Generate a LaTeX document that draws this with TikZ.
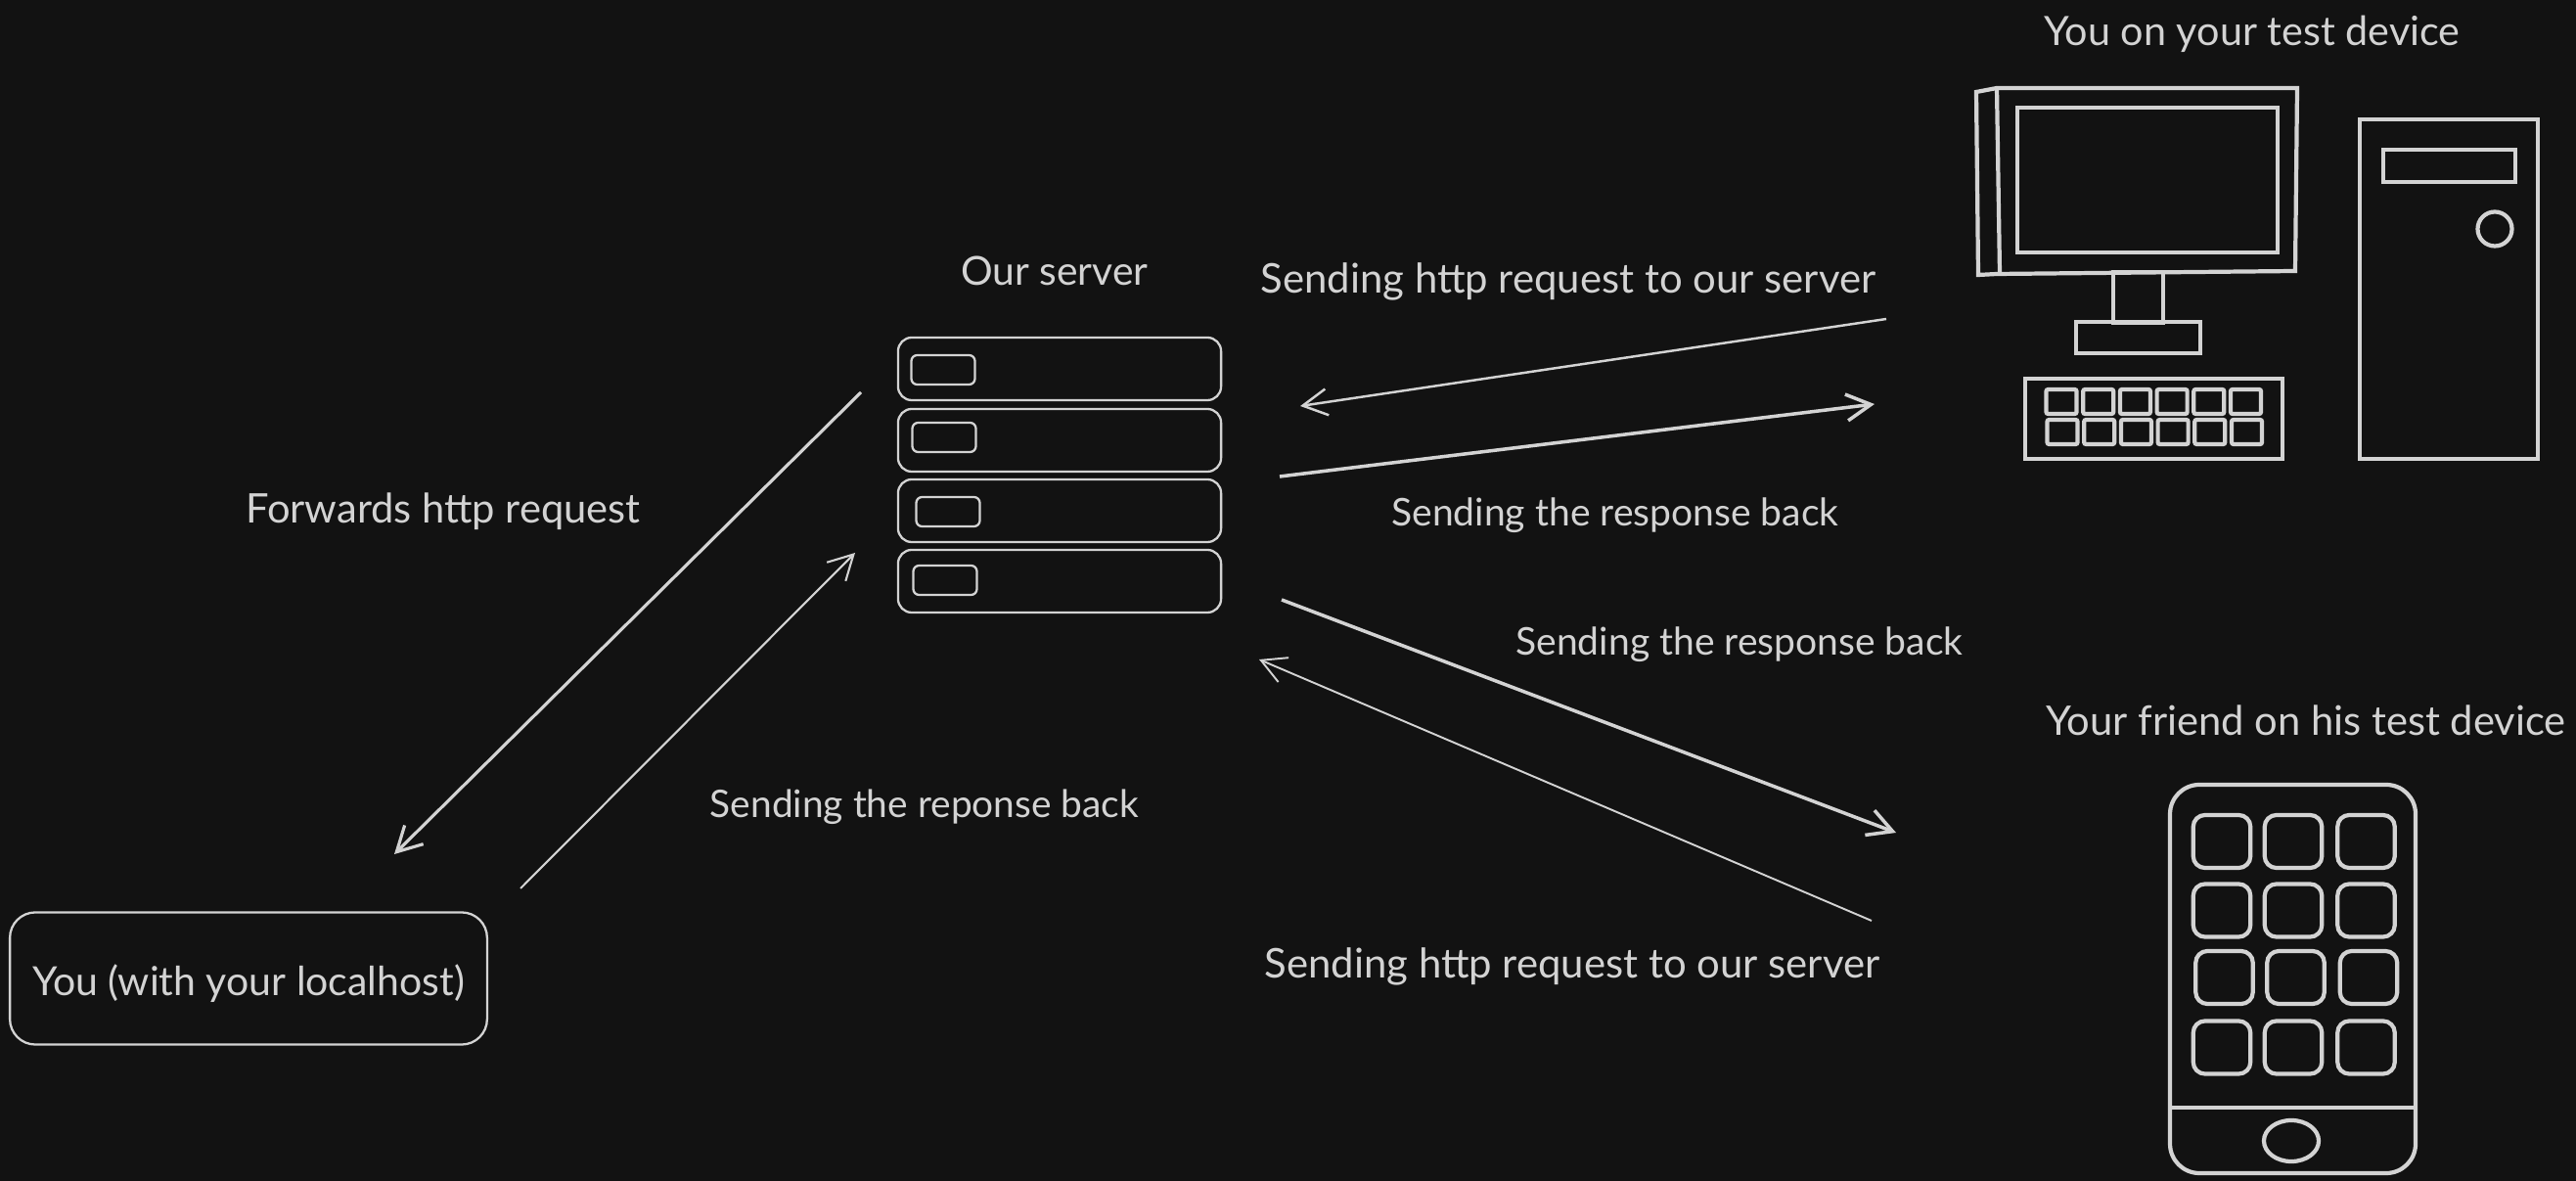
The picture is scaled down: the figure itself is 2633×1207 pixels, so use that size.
\documentclass[tikz,border=0pt]{standalone}
\usepackage{fontspec}
\setmainfont{Lato}
\usetikzlibrary{arrows.meta}
\definecolor{bgdark}{HTML}{121212}
\definecolor{inkgrey}{HTML}{D3D3D3}
\tikzset{
    label text/.style={text=inkgrey,font=\fontsize{#1}{13}\selectfont,inner sep=0pt},
    thin ink/.style={draw=inkgrey,line width=0.65pt},
    thick ink/.style={draw=inkgrey,line width=1.2pt},
    link/.style={draw=inkgrey,line width=#1,-{Straight Barb[length=2.5mm,width=2.7mm]}},
    rack/.style={thin ink,rounded corners=1.4mm,minimum width=3.3cm,minimum height=0.64cm,inner sep=0pt},
    slot/.style={thin ink,rounded corners=0.6mm,minimum width=0.65cm,minimum height=0.3cm,inner sep=0pt},
    you box/.style={thin ink,rounded corners=2.6mm,minimum width=4.875cm,minimum height=1.35cm,inner sep=0pt,text=inkgrey,font=\fontsize{11.65}{13}\selectfont},
    app/.style={thick ink,rounded corners=1.2mm,minimum width=0.585cm,minimum height=0.54cm,inner sep=0pt},
    key/.style={thick ink,rounded corners=0.2mm,minimum width=0.31cm,minimum height=0.25cm,inner sep=0pt},
}
\begin{document}
\begin{tikzpicture}[x=0.01cm,y=-0.01cm]
    \fill[bgdark] (0,0) rectangle (2633,1207);
    \useasboundingbox (0,0) rectangle (2633,1207);

    \node[label text=11.75] (youLabel) at (2302,35) {You on your test device};
    \node[label text=11.85] (friendLabel) at (2357,736) {Your friend on his test device};
    \node[label text=11.6] (serverLabel) at (1078,277) {Our server};
    \node[label text=11.9] (reqTop) at (1603,288) {Sending http request to our server};
    \node[label text=11.1] (respTop) at (1651,527) {Sending the response back};
    \node[label text=11.1] (respLow) at (1778,659) {Sending the response back};
    \node[label text=11.9] (reqLow) at (1607,988) {Sending http request to our server};
    \node[label text=11.85] (fwd) at (453,523) {Forwards http request};
    \node[label text=11.05] (respLeft) at (945,825) {Sending the reponse back};

    \node[you box] (you) at (254,1000) {\raisebox{-1.4pt}[\height][\depth]{You (with your localhost)}};

    \node[rack] (rackA) at (1083,377) {};
    \node[rack] (rackB) at (1083,450) {};
    \node[rack] (rackC) at (1083,522) {};
    \node[rack] (rackD) at (1083,594) {};
    \node[slot] (slotA) at (964,378) {};
    \node[slot] (slotB) at (965,447) {};
    \node[slot] (slotC) at (969,523) {};
    \node[slot] (slotD) at (966,593) {};

    \draw[thick ink] (2020,94) -- (2041,90) -- (2348,90) -- (2346,277) -- (2041,280) -- (2022,281) -- cycle;
    \draw[thick ink] (2041,90) -- (2044,280);
    \draw[thick ink] (2062,110) rectangle (2328,258);
    \draw[thick ink] (2160,278) rectangle (2211,330);
    \draw[thick ink] (2122,329) rectangle (2249,361);
    \draw[thick ink] (2070,387) rectangle (2333,469);
    \foreach \i in {0,...,5} {
        \node[key] (keyA\i) at ({2107+37.7*\i},410.5) {};
        \node[key] (keyB\i) at ({2108+37.7*\i},441.5) {};
    }
    \draw[thick ink] (2412,122) rectangle (2594,469);
    \draw[thick ink] (2436,153) rectangle (2571,186);
    \draw[thick ink] (2550,234) circle [radius=0.175cm];

    \draw[thick ink,rounded corners=3mm] (2218,802) rectangle (2469,1199);
    \draw[thick ink] (2218,1132) -- (2469,1132);
    \draw[thick ink] (2342,1166) ellipse [x radius=0.28cm,y radius=0.21cm];
    \foreach \row/\ypos/\off in {1/860/0,2/930.5/0,3/999/2.5,4/1070.5/0} {
        \foreach \col/\xpos in {1/2271,2/2344,3/2418.5} {
            \node[app] (app\row\col) at ({\xpos+\off},\ypos) {};
        }
    }

    \coordinate (fwdStart) at (880,401);
    \coordinate (fwdEnd) at (403,873);
    \coordinate (backStart) at (532,908);
    \coordinate (backEnd) at (874,565);
    \coordinate (reqTopStart) at (1928,326);
    \coordinate (reqTopEnd) at (1329,415);
    \coordinate (respTopStart) at (1308,487);
    \coordinate (respTopEnd) at (1916,413);
    \coordinate (respLowStart) at (1310,613);
    \coordinate (respLowEnd) at (1938,851);
    \coordinate (reqLowStart) at (1913,941);
    \coordinate (reqLowEnd) at (1287,674);

    \draw[link=0.9pt] (fwdStart) -- (fwdEnd);
    \draw[link=0.6pt] (backStart) -- (backEnd);
    \draw[link=0.7pt] (reqTopStart) -- (reqTopEnd);
    \draw[link=1pt] (respTopStart) -- (respTopEnd);
    \draw[link=1pt] (respLowStart) -- (respLowEnd);
    \draw[link=0.55pt] (reqLowStart) -- (reqLowEnd);
\end{tikzpicture}
\end{document}
